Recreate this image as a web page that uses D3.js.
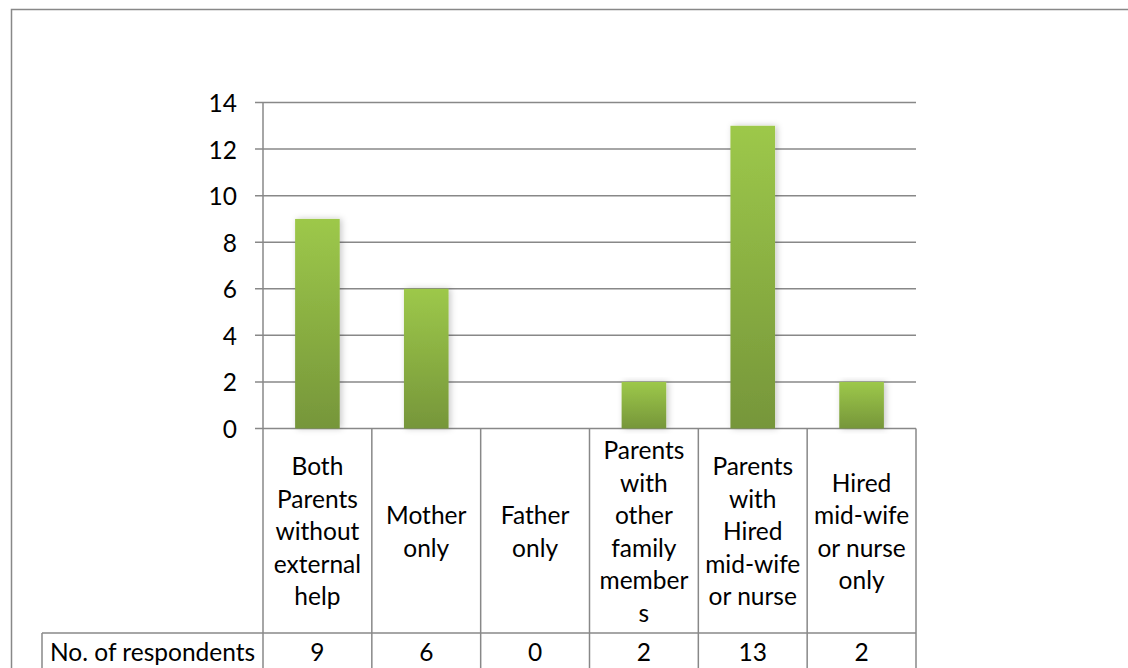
<!DOCTYPE html>
<html>
<head>
<meta charset="utf-8">
<script src="https://cdn.jsdelivr.net/npm/d3@7"></script>
<style>
  body { margin: 0; background: #fff; }
  svg { display: block; }
  text { font-family: Lato, "Open Sans", sans-serif; fill: #000; }
</style>
</head>
<body>
<svg id="chart" width="1128" height="668"></svg>
<script>
// Who assisted during delivery — number of respondents per category
const categoryLines = [
  ["Both", "Parents", "without", "external", "help"],
  ["Mother", "only"],
  ["Father", "only"],
  ["Parents", "with", "other", "family", "member", "s"],
  ["Parents", "with", "Hired", "mid-wife", "or nurse"],
  ["Hired", "mid-wife", "or nurse", "only"]
];
const respondents = [9, 6, 0, 2, 13, 2];
const seriesName = "No. of respondents";
const yTicks = [0, 2, 4, 6, 8, 10, 12, 14];

const svg = d3.select("#chart");
const W = 1128, H = 668;

// plot frame
const plotLeft = 263, plotRight = 916, plotTop = 102.5, plotBottom = 428.5;
const tableRowY = 633, tableLeft = 42;
const fontSize = 24.5;
const lineGap = 32.5;
const gridColor = "#888888";

const x = d3.scaleBand().domain(d3.range(categoryLines.length)).range([plotLeft, plotRight]).paddingInner(0);
const y = d3.scaleLinear().domain([0, 14]).range([plotBottom, plotTop]);

// defs: bar gradient and soft shadow
const defs = svg.append("defs");
const grad = defs.append("linearGradient").attr("id", "barFill")
  .attr("x1", 0).attr("y1", 0).attr("x2", 0).attr("y2", 1);
grad.append("stop").attr("offset", "0%").attr("stop-color", "#9dc84a");
grad.append("stop").attr("offset", "100%").attr("stop-color", "#76963a");
const shadow = defs.append("filter").attr("id", "barShadow")
  .attr("x", "-40%").attr("y", "-10%").attr("width", "180%").attr("height", "120%");
shadow.append("feDropShadow").attr("dx", 2).attr("dy", 0).attr("stdDeviation", 3)
  .attr("flood-color", "#000").attr("flood-opacity", 0.22);

// outer chart border (runs past the right and bottom edges)
svg.append("rect")
  .attr("x", 11.5).attr("y", 9.5).attr("width", W + 50).attr("height", H + 50)
  .attr("fill", "none").attr("stroke", gridColor).attr("stroke-width", 1.5);

// horizontal gridlines with left tick stubs
svg.append("g").selectAll("line").data(yTicks).join("line")
  .attr("x1", plotLeft - 8).attr("x2", plotRight)
  .attr("y1", d => y(d)).attr("y2", d => y(d))
  .attr("stroke", gridColor).attr("stroke-width", 1.5);

// y axis line continuing down through the data table
svg.append("line")
  .attr("x1", plotLeft).attr("x2", plotLeft).attr("y1", y(14)).attr("y2", H + 5)
  .attr("stroke", gridColor).attr("stroke-width", 1.5);

// y tick labels
svg.append("g").selectAll("text").data(yTicks).join("text")
  .attr("x", 237).attr("y", d => y(d))
  .attr("text-anchor", "end").attr("dominant-baseline", "central")
  .attr("font-size", fontSize)
  .text(d => d);

// bars
const barW = x.bandwidth() * 0.41;
svg.append("g").selectAll("rect").data(respondents).join("rect")
  .attr("x", (d, i) => x(i) + (x.bandwidth() - barW) / 2)
  .attr("y", d => y(d))
  .attr("width", barW)
  .attr("height", d => y(0) - y(d))
  .attr("fill", "url(#barFill)")
  .attr("filter", "url(#barShadow)");

// data table: category dividers below the axis
const dividers = d3.range(categoryLines.length + 1).map(i => plotLeft + i * x.step());
svg.append("g").selectAll("line").data(dividers.slice(1)).join("line")
  .attr("x1", d => d).attr("x2", d => d).attr("y1", y(0)).attr("y2", H + 5)
  .attr("stroke", gridColor).attr("stroke-width", 1.5);

// row separator and left edge of the series row
svg.append("line")
  .attr("x1", tableLeft).attr("x2", plotRight).attr("y1", tableRowY).attr("y2", tableRowY)
  .attr("stroke", gridColor).attr("stroke-width", 1.5);
svg.append("line")
  .attr("x1", tableLeft).attr("x2", tableLeft).attr("y1", tableRowY).attr("y2", H + 5)
  .attr("stroke", gridColor).attr("stroke-width", 1.5);

// category labels, wrapped and centered in the header band
const bandMid = (y(0) + tableRowY) / 2;
const catG = svg.append("g").selectAll("text").data(categoryLines).join("text")
  .attr("text-anchor", "middle").attr("font-size", fontSize)
  .attr("transform", (d, i) => `translate(${x(i) + x.bandwidth() / 2},0)`);
catG.selectAll("tspan").data(d => d.map((t, k) => ({ t, k, n: d.length }))).join("tspan")
  .attr("x", 0)
  .attr("y", d => bandMid + (d.k - (d.n - 1) / 2) * lineGap)
  .attr("dominant-baseline", "central")
  .text(d => d.t);

// series row: name and values
const rowMid = 651.5;
svg.append("text")
  .attr("x", 50).attr("y", rowMid)
  .attr("dominant-baseline", "central").attr("font-size", fontSize)
  .text(seriesName);
svg.append("g").selectAll("text").data(respondents).join("text")
  .attr("x", (d, i) => x(i) + x.bandwidth() / 2).attr("y", rowMid)
  .attr("text-anchor", "middle").attr("dominant-baseline", "central")
  .attr("font-size", fontSize)
  .text(d => d);
</script>
</body>
</html>
